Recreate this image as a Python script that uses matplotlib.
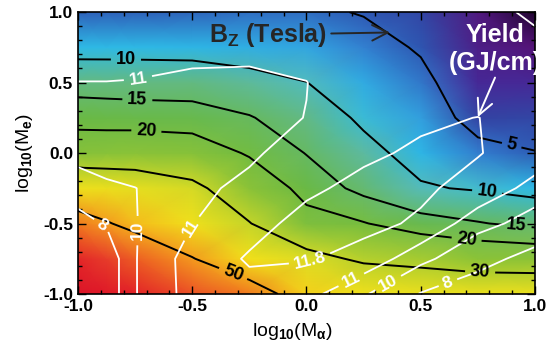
import numpy as np
import matplotlib
matplotlib.use('Agg')
import matplotlib.pyplot as plt
from matplotlib.colors import LinearSegmentedColormap
from matplotlib.ticker import MultipleLocator, FormatStrFormatter

plt.rcParams['font.family'] = ['Liberation Sans', 'DejaVu Sans']
plt.rcParams['font.weight'] = 'bold'
plt.rcParams['mathtext.fontset'] = 'custom'
plt.rcParams['mathtext.rm'] = 'Liberation Sans:bold'
plt.rcParams['mathtext.it'] = 'Liberation Sans:bold:italic'
plt.rcParams['mathtext.bf'] = 'Liberation Sans:bold'
plt.rcParams['mathtext.default'] = 'rm'

# grid nodes, log10 space
log_ma = [-1.0, -0.875, -0.75, -0.5, -0.25, 0.0, 0.25, 0.5, 0.75, 1.0]
log_me = [-1.0, -0.75, -0.5, -0.25, 0.0, 0.25, 0.5, 0.75, 1.0]

# B_z (Tesla), one row per log10(Me)
bz = [
    [128, 106, 88, 65, 56, 44, 40, 38, 38, 38],
    [85, 72, 62, 50.5, 41, 33, 28.5, 27.3, 25, 24.5],
    [56, 51, 46, 40, 30.3, 22, 20.3, 16.9, 15.3, 13.8],
    [39.2, 37.5, 36, 32, 24.5, 18.2, 13.5, 10.4, 9.6, 8.6],
    [23.5, 24, 24.5, 23.5, 19.4, 14.8, 11.2, 8.5, 6.2, 5.1],
    [18.2, 17.8, 17.5, 17.2, 15.3, 12.4, 9.3, 7.3, 3.5, 3.6],
    [12.7, 12.65, 12.6, 12.5, 11.4, 10.05, 7.8, 5.9, 2.6, 2.6],
    [8.6, 8.6, 8.6, 8.5, 8.0, 7.6, 6.3, 4.65, 2.2, 1.8],
    [5.2, 5.2, 5.2, 5.3, 5.6, 5.6, 4.8, 3.6, 2.0, 1.3],
]

# yield (GJ/cm), same grid
yld = [
    [5.5, 6.5, 9.95, 11.4, 11.6, 11.31, 10.2, 7.9, 6.8, 6.0],
    [5.3, 6.5, 9.95, 11.45, 11.86, 11.85, 11.6, 10.45, 8.7, 7.3],
    [7.2, 8.2, 9.95, 10.98, 11.6, 11.98, 11.95, 11.72, 10.52, 9.4],
    [9.1, 9.75, 9.98, 10.7, 11.3, 11.7, 11.95, 11.9, 11.59, 10.7],
    [10.6, 10.7, 10.75, 10.85, 10.8, 11.59, 11.7, 11.89, 11.83, 11.5],
    [10.8, 10.85, 10.9, 10.9, 10.85, 11.01, 11.5, 11.7, 11.81, 11.5],
    [10.99, 10.99, 10.97, 10.9, 10.9, 10.99, 11.4, 11.5, 11.4, 11.2],
    [11.3, 11.3, 11.3, 11.15, 11.12, 11.2, 11.4, 11.4, 11.3, 11.15],
    [11.4, 11.4, 11.4, 11.3, 11.3, 11.3, 11.35, 11.3, 11.2, 10.9],
]

bz_levels = [5, 10, 15, 20, 30, 50]
yield_levels = [8, 10, 11, 11.8]

# colour ramp for the background: Bz value -> colour
ramp_bz = [1.2, 1.8, 2.6, 3.6, 5, 6.3, 7.5, 8.7, 10.5, 13, 18, 25, 33, 42, 50, 58, 70, 90, 130]
ramp_rgb = ['#14001e', '#551478', '#462896', '#3246a5', '#2d5ab4', '#3282d2',
            '#32a5e1', '#2dbbe6', '#5abbb4', '#64b978', '#69b946', '#8cc337',
            '#dcdc23', '#f5e119', '#f5a01e', '#f06e1e', '#e8412a', '#e11e28', '#dc1428']

lo, hi = np.log10(ramp_bz[0]), np.log10(ramp_bz[-1])
pos = (np.log10(ramp_bz) - lo) / (hi - lo)
cmap = LinearSegmentedColormap.from_list('bz', list(zip(pos, ramp_rgb)))

X, Y = np.meshgrid(log_ma, log_me)
B = np.array(bz)
W = np.array(yld)

fig = plt.figure(figsize=(5.48, 3.52), dpi=100)
ax = fig.add_axes([0.1423, 0.1648, 0.834, 0.801])

ax.pcolormesh(X, Y, np.log10(B), shading='gouraud', cmap=cmap, vmin=lo, vmax=hi)

cb = ax.contour(X, Y, B, levels=bz_levels, colors='black', linewidths=1.4)
cw = ax.contour(X, Y, W, levels=yield_levels, colors='white', linewidths=1.3)

bz_label_at = [(-0.79, 0.66), (-0.74, 0.39), (-0.70, 0.18), (-0.32, -0.85),
               (0.90, 0.07), (0.79, -0.28), (0.92, -0.51), (0.70, -0.62),
               (0.76, -0.82)]
yield_label_at = [(-0.74, 0.55), (-0.89, -0.50), (-0.755, -0.55), (-0.52, -0.52),
                  (0.015, -0.76), (0.19, -0.88), (0.35, -0.90), (0.61, -0.88)]

ax.clabel(cb, fmt=lambda v: f'{v:g}', manual=bz_label_at, inline=True, fontsize=13)
ax.clabel(cw, fmt=lambda v: f'{v:g}', manual=yield_label_at, inline=True, fontsize=12.5)

ax.annotate('B$_Z$ (Tesla)', xy=(0.365, 0.855), xytext=(0.09, 0.84),
            ha='right', va='center', fontsize=18, color='#262626',
            arrowprops=dict(arrowstyle='->', color='#262626', lw=1.4,
                            mutation_scale=28, shrinkA=1, shrinkB=0))
ax.text(0.825, 0.74, 'Yield\n(GJ/cm)', ha='center', va='center', fontsize=18,
        color='white', linespacing=1.2)
ax.annotate('', xy=(0.75, 0.255), xytext=(0.825, 0.535),
            arrowprops=dict(arrowstyle='->', color='white', lw=1.4,
                            mutation_scale=28, shrinkA=0, shrinkB=0))

ax.set_xlim(-1, 1)
ax.set_ylim(-1, 1)
for axis in (ax.xaxis, ax.yaxis):
    axis.set_major_locator(MultipleLocator(0.5))
    axis.set_minor_locator(MultipleLocator(0.1))
    axis.set_major_formatter(FormatStrFormatter('%.1f'))
ax.tick_params(which='both', direction='in', top=True, right=True, labelsize=12.5)
ax.tick_params(which='major', length=6, width=1)
ax.tick_params(which='minor', length=3, width=1)
for s in ax.spines.values():
    s.set_linewidth(1.2)

ax.set_xlabel('log$_{10}$(M$_\\alpha$)', fontsize=14, labelpad=6)
ax.xaxis.set_label_coords(0.47, -0.095)
ax.set_ylabel('log$_{10}$(M$_e$)', fontsize=14, labelpad=6)

fig.savefig('out.png', dpi=100)
